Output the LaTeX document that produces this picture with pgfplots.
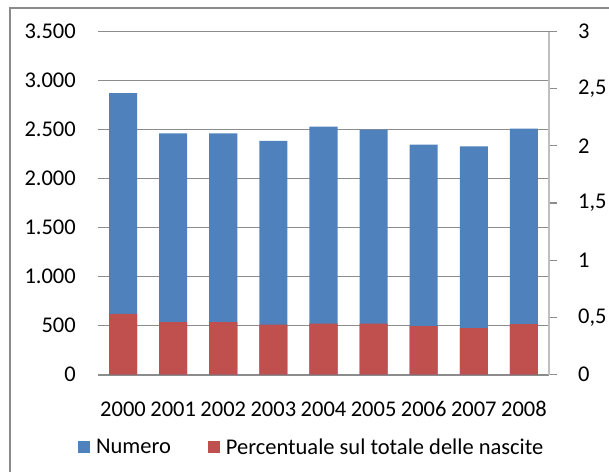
\documentclass[border=0pt]{standalone}
\usepackage{pgfplots}
\pgfplotsset{compat=1.18}
\usepackage{fontspec}
\setmainfont{Carlito}
\definecolor{bblue}{HTML}{4F81BD}
\definecolor{bred}{HTML}{C0504D}
\definecolor{gridc}{HTML}{8C8C8C}
\definecolor{raxis}{HTML}{BFBFBF}
\definecolor{frame}{HTML}{8A8A8A}
\begin{document}
\begin{tikzpicture}[font=\fontsize{22.5bp}{27bp}\selectfont]
\path[use as bounding box] (0,0) rectangle (609bp,-472bp);
\draw[color=frame, line width=2bp] (10bp,-480bp) -- (10bp,-8bp) -- (620bp,-8bp);
\begin{axis}[
  at={(98bp,-374.5bp)}, anchor=south west,
  scale only axis, width=451bp, height=343bp,
  xmin=-0.5, xmax=8.5, ymin=0, ymax=3500,
  ybar, bar width=0.56,
  xtick={0,1,2,3,4,5,6,7,8},
  xticklabels={2000,2001,2002,2003,2004,2005,2006,2007,2008},
  ytick={0,500,1000,1500,2000,2500,3000,3500},
  axis x line*=bottom, axis y line*=left,
  x axis line style={color=gridc, line width=2bp},
  y axis line style={draw=none},
  xtick style={draw=none}, ytick style={draw=none},
  ymajorgrids, grid style={color=gridc, line width=1.3bp},
  /pgf/number format/.cd, 1000 sep={.}, assume math mode=true, /pgfplots/.cd,
  yticklabel style={anchor=east, inner sep=0pt, xshift=-22bp},
  xticklabel style={anchor=north, inner sep=0pt, yshift=-22.5bp},
  scaled y ticks=false,
]
\addplot[fill=bblue, draw=none] coordinates {(0,2870)(1,2460)(2,2460)(3,2385)(4,2530)(5,2500)(6,2345)(7,2327)(8,2510)};
\end{axis}
\begin{axis}[
  at={(98bp,-374.5bp)}, anchor=south west,
  scale only axis, width=451bp, height=343bp,
  xmin=-0.5, xmax=8.5, ymin=0, ymax=3,
  ybar, bar width=0.56,
  axis x line=none, axis y line*=right,
  y axis line style={color=raxis, line width=1.5bp},
  ytick={0,0.5,1,1.5,2,2.5,3},
  tick align=outside, major tick length=8bp,
  ytick style={color=gridc, line width=1.3bp},
  /pgf/number format/.cd, use comma, assume math mode=true, /pgfplots/.cd,
  yticklabel style={anchor=west, inner sep=0pt, xshift=21bp},
  legend columns=2,
  legend style={draw=none, fill=none, inner sep=0pt, outer sep=0pt,
    at={(-0.0443,-0.2114)}, anchor=west,
    column sep=6bp, /tikz/every even column/.append style={column sep=37bp},
    nodes={inner sep=0pt}},
  legend image code/.code={\fill[#1] (0bp,-6bp) rectangle (12bp,6bp);},
]
\addlegendimage{fill=bblue, draw=none}
\addlegendentry{Numero}
\addplot[fill=bred, draw=none] coordinates {(0,0.53)(1,0.458)(2,0.458)(3,0.437)(4,0.446)(5,0.446)(6,0.423)(7,0.406)(8,0.441)};
\addlegendentry{Percentuale sul totale delle nascite}
\end{axis}
\end{tikzpicture}
\end{document}
